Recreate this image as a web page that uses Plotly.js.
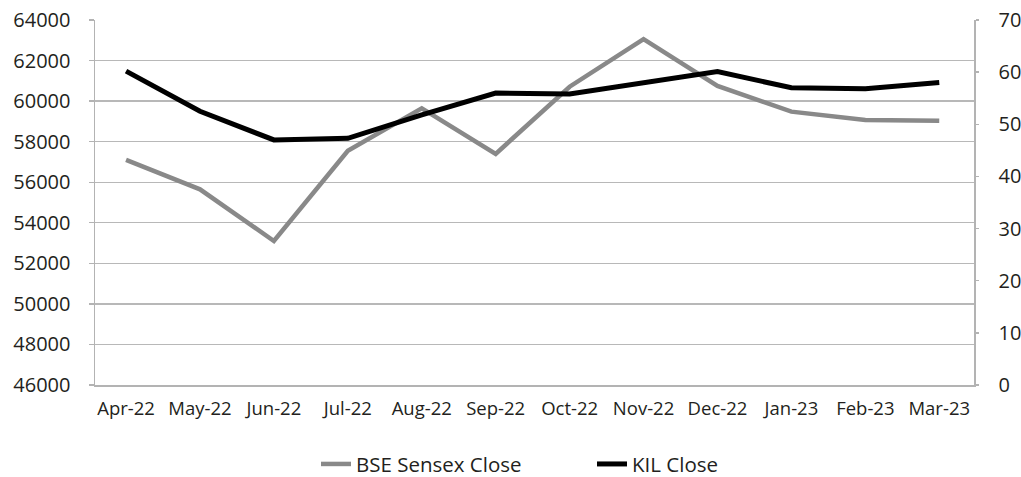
<!DOCTYPE html>
<html><head><meta charset="utf-8">
<script src="https://cdn.plot.ly/plotly-3.0.1.min.js"></script>
<style>html,body{margin:0;padding:0;background:#fff}#chart{width:1021px;height:477px}</style>
</head><body><div id="chart"></div>
<script>
const months = ["Apr-22","May-22","Jun-22","Jul-22","Aug-22","Sep-22","Oct-22","Nov-22","Dec-22","Jan-23","Feb-23","Mar-23"];
const bseClose = [57100, 55650, 53100, 57550, 59640, 57400, 60710, 63060, 60750, 59480, 59070, 59030];
const kilClose = [60.2, 52.5, 47.0, 47.3, 51.8, 56.0, 55.8, 57.9, 60.1, 57.0, 56.8, 58.0];
const leftTicks = [46000,48000,50000,52000,54000,56000,58000,60000,62000,64000];
const rightTicks = [0,10,20,30,40,50,60,70];

const fam = "Open Sans, Noto Sans, sans-serif";
const col = "#231f20";
const yFont = {family: fam, size: 20, color: col};
const xFont = {family: fam, size: 18.5, color: col};
const legFont = {family: fam, size: 20.5, color: col};
const traces = [
  {x: months, y: bseClose, name: "BSE Sensex Close", type: "scatter", mode: "lines",
   line: {color: "#898989", width: 4.5}, yaxis: "y"},
  {x: months, y: kilClose, name: "KIL Close", type: "scatter", mode: "lines",
   line: {color: "#000000", width: 5}, yaxis: "y2"}
];
const layout = {
  width: 1021, height: 477,
  margin: {l: 95, r: 47, t: 20, b: 92},
  paper_bgcolor: "#fff", plot_bgcolor: "#fff",
  font: yFont,
  showlegend: true,
  legend: {orientation: "h", xref: "container", yref: "container", x: 316/1021, xanchor: "left",
           y: 0.027, yanchor: "middle", font: legFont, entrywidth: 231, entrywidthmode: "pixels"},
  xaxis: {type: "category", range: [-0.42, 11.47], showgrid: false, showline: true,
          linecolor: "#b3b3b3", linewidth: 1.5, ticks: "", tickfont: xFont,
          ticklabelstandoff: 6, zeroline: false},
  yaxis: {range: [46000, 64000], tickvals: leftTicks, ticktext: leftTicks.map(String),
          showgrid: true, gridcolor: "#b8b8b8", gridwidth: 1.3, showline: true,
          linecolor: "#b3b3b3", linewidth: 1.5, ticks: "outside", ticklen: 5,
          tickcolor: "#b3b3b3", tickwidth: 1.3, tickfont: yFont, ticklabelstandoff: 14,
          zeroline: false},
  yaxis2: {range: [0, 70], tickvals: rightTicks, ticktext: rightTicks.map(String),
           overlaying: "y", side: "right", showgrid: false, showline: true,
           linecolor: "#b3b3b3", linewidth: 1.5, ticks: "outside", ticklen: 3,
           tickcolor: "#b3b3b3", tickwidth: 1.3, tickfont: yFont, ticklabelstandoff: 16,
           zeroline: false}
};
Plotly.newPlot("chart", traces, layout, {staticPlot: true, displayModeBar: false});
</script></body></html>
